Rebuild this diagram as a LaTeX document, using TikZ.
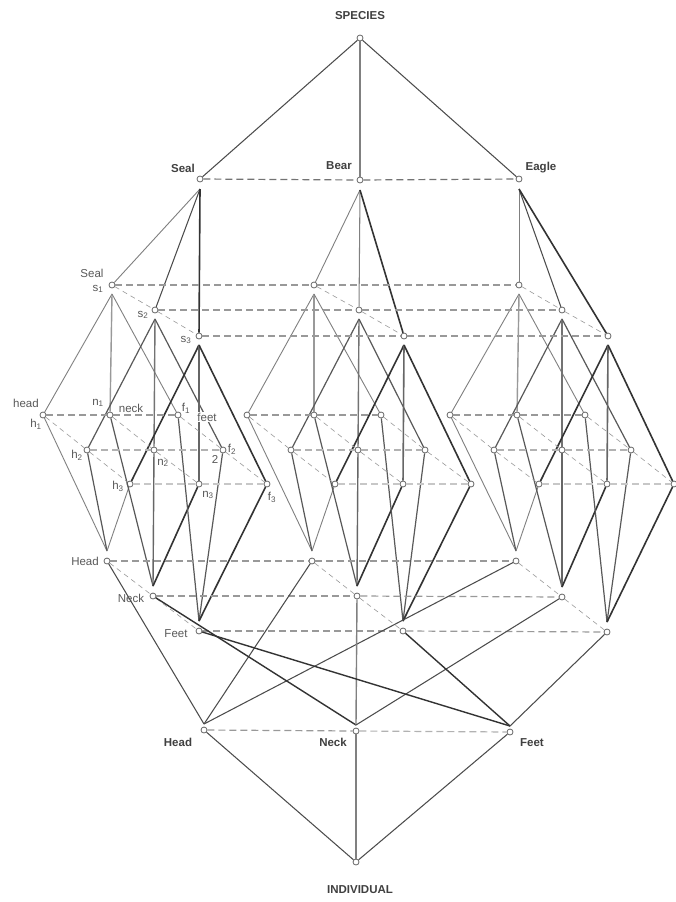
\documentclass[tikz,border=0pt]{standalone}
\usepackage{fontspec}
\setmainfont{Liberation Sans}
\tikzset{
  x=1pt,y=-1pt,
  vert/.style={circle,draw=black!60,fill=white,line width=0.8pt,inner sep=0pt,minimum size=6pt},
  main/.style={font=\fontsize{11.5}{13}\selectfont\bfseries,text=black!75,inner sep=0.5pt},
  sub/.style={font=\fontsize{11.5}{13}\selectfont,text=black!65,inner sep=0.5pt},
  eA/.style={draw=black!50,line width=0.9pt},
  eB/.style={draw=black!65,line width=1.2pt},
  eC/.style={draw=black!80,line width=1.6pt},
  eD/.style={draw=black!70,line width=1.05pt},
  eL/.style={draw=black!50,line width=1.05pt},
  eV/.style={draw=black!40,line width=1.4pt},
  rowd/.style={draw=black!40,line width=1.2pt,dash pattern=on 7pt off 4pt},
  diag/.style={draw=black!40,line width=0.6pt,dash pattern=on 5pt off 4pt},
}
\newcommand{\vn}[3]{\node[vert] (#1) at (#2,#3) {};}
\begin{document}
\begin{tikzpicture}
\useasboundingbox (0,0) rectangle (676,902);
\fill[white] (0,0) rectangle (676,902);
% top and bottom
\vn{species}{360}{38}
\vn{seal}{200}{179}\vn{bear}{360}{180}\vn{eagle}{519}{179}
\vn{head}{204}{730}\vn{neck}{356}{731}\vn{feet}{510}{732}
\vn{indiv}{356}{862}
% cube A
\vn{A-s1}{112}{285}\vn{A-s2}{155}{310}\vn{A-s3}{199}{336}
\vn{A-h1}{43}{415}\vn{A-n1}{110}{415}\vn{A-f1}{178}{415}
\vn{A-h2}{87}{450}\vn{A-n2}{154}{450}\vn{A-f2}{223}{450}
\vn{A-h3}{130}{484}\vn{A-n3}{199}{484}\vn{A-f3}{267}{484}
\vn{A-H}{107}{561}\vn{A-N}{153}{596}\vn{A-F}{199}{631}
% cube B
\vn{B-s1}{314}{285}\vn{B-s2}{359}{310}\vn{B-s3}{404}{336}
\vn{B-h1}{247}{415}\vn{B-n1}{314}{415}\vn{B-f1}{381}{415}
\vn{B-h2}{291}{450}\vn{B-n2}{358}{450}\vn{B-f2}{425}{450}
\vn{B-h3}{335}{484}\vn{B-n3}{403}{484}\vn{B-f3}{471}{484}
\vn{B-H}{312}{561}\vn{B-N}{357}{596}\vn{B-F}{403}{631}
% cube C
\vn{C-s1}{519}{285}\vn{C-s2}{562}{310}\vn{C-s3}{608}{336}
\vn{C-h1}{450}{415}\vn{C-n1}{517}{415}\vn{C-f1}{585}{415}
\vn{C-h2}{494}{450}\vn{C-n2}{562}{450}\vn{C-f2}{631}{450}
\vn{C-h3}{539}{484}\vn{C-n3}{607}{484}\vn{C-f3}{674}{484}
\vn{C-H}{516}{561}\vn{C-N}{562}{597}\vn{C-F}{607}{632}
% apex coordinates
\foreach \n in {seal,bear,eagle}{\path (\n) ++(0,10) coordinate (\n-a);}
\foreach \n in {head,neck,feet}{\path (\n) ++(0,-6) coordinate (\n-a);}
\foreach \X in {A,B,C}{
  \foreach \i in {1,2,3}{\path (\X-s\i) ++(0,9) coordinate (\X-s\i-a);}
  \foreach \n in {H,N,F}{\path (\X-\n) ++(0,-10) coordinate (\X-\n-a);}
}
% top edges
\draw[eD] (species) -- (seal);
\draw[eL] (species) -- (bear);
\draw[eD] (species) -- (eagle);
\draw[rowd,draw=black!55] (seal) -- (bear);
\draw[rowd,draw=black!55] (bear) -- (eagle);
\draw[eA] (seal-a) -- (A-s1);
\draw[eD] (seal-a) -- (A-s2);
\draw[eC] (seal-a) -- (A-s3);
\draw[eA] (bear-a) -- (B-s1);
\draw[eL] (bear-a) -- (B-s2);
\draw[eC] (bear-a) -- (B-s3);
\draw[eA] (eagle-a) -- (C-s1);
\draw[eD] (eagle-a) -- (C-s2);
\draw[eC] (eagle-a) -- (C-s3);
% cubes
\foreach \X in {A,B,C}{
  \draw[eA] (\X-s1-a) -- (\X-h1);
  \draw[eV] (\X-s1-a) -- (\X-n1);
  \draw[eA] (\X-s1-a) -- (\X-f1);
  \draw[eB] (\X-s2-a) -- (\X-h2);
  \draw[eV,draw=black!55] (\X-s2-a) -- (\X-n2);
  \draw[eB] (\X-s2-a) -- (\X-f2);
  \draw[eC] (\X-s3-a) -- (\X-h3);
  \draw[eC,draw=black!60] (\X-s3-a) -- (\X-n3);
  \draw[eC] (\X-s3-a) -- (\X-f3);
  \draw[eA] (\X-h1) -- (\X-H-a);
  \draw[eB] (\X-h2) -- (\X-H-a);
  \draw[eA] (\X-h3) -- (\X-H-a);
  \draw[eB] (\X-n1) -- (\X-N-a);
  \draw[eV,draw=black!60] (\X-n2) -- (\X-N-a);
  \draw[eC] (\X-n3) -- (\X-N-a);
  \draw[eB] (\X-f1) -- (\X-F-a);
  \draw[eB] (\X-f2) -- (\X-F-a);
  \draw[eC] (\X-f3) -- (\X-F-a);
  \draw[rowd] (\X-h1) -- (\X-n1);
  \draw[rowd] (\X-n1) -- (\X-f1);
  \draw[rowd,draw=black!30] (\X-h2) -- (\X-n2);
  \draw[rowd,draw=black!30] (\X-n2) -- (\X-f2);
  \draw[rowd,draw=black!22] (\X-h3) -- (\X-n3);
  \draw[rowd,draw=black!22] (\X-n3) -- (\X-f3);
  \draw[diag] (\X-s1) -- (\X-s2);
  \draw[diag] (\X-s2) -- (\X-s3);
  \draw[diag] (\X-h1) -- (\X-h2);
  \draw[diag] (\X-h2) -- (\X-h3);
  \draw[diag] (\X-n1) -- (\X-n2);
  \draw[diag] (\X-n2) -- (\X-n3);
  \draw[diag] (\X-f1) -- (\X-f2);
  \draw[diag] (\X-f2) -- (\X-f3);
  \draw[diag] (\X-H) -- (\X-N);
  \draw[diag] (\X-N) -- (\X-F);
}
% rows across cubes
\foreach \n in {s1,s2,s3,H,N,F}{
  \draw[rowd] (A-\n) -- (B-\n);
  \draw[rowd] (B-\n) -- (C-\n);
}
% lower edges
\draw[eD] (A-H) -- (head-a);
\draw[eD] (B-H) -- (head-a);
\draw[eD] (C-H) -- (head-a);
\draw[eC,line width=1.4pt] (A-N) -- (neck-a);
\draw[eV,draw=black!50] (B-N) -- (neck-a);
\draw[eD] (C-N) -- (neck-a);
\draw[eC,line width=1.4pt] (A-F) -- (feet-a);
\draw[eC,line width=1.4pt] (B-F) -- (feet-a);
\draw[eD] (C-F) -- (feet-a);
\draw[rowd] (head) -- (neck);
\draw[rowd,draw=black!30] (neck) -- (feet);
\draw[eD] (head) -- (indiv);
\draw[eL] (neck) -- (indiv);
\draw[eD] (feet) -- (indiv);
% main labels
\node[main] (t-species) at (360,16) {SPECIES};
\node[main] (t-indiv) at (360,890) {INDIVIDUAL};
\node[main] (t-seal) at (183,168) {Seal};
\node[main] (t-bear) at (339,166) {Bear};
\node[main] (t-eagle) at (541,168) {Eagle};
\node[main] (t-head) at (178,742) {Head};
\node[main] (t-neck) at (333,742) {Neck};
\node[main] (t-feet) at (532,743) {Feet};
% sub labels
\node[sub] (l-seal) at (92,273) {Seal};
\node[sub] (l-s1) at (98,289) {s\textsubscript{1}};
\node[sub] (l-s2) at (143,315) {s\textsubscript{2}};
\node[sub] (l-s3) at (186,340) {s\textsubscript{3}};
\node[sub] (l-headp) at (26,403) {head};
\node[sub] (l-h1) at (36,424) {h\textsubscript{1}};
\node[sub] (l-n1) at (98,403) {n\textsubscript{1}};
\node[sub,fill=white] (l-neckp) at (131,408) {neck};
\node[sub] (l-f1) at (186,408) {f\textsubscript{1}};
\node[sub,fill=white] (l-feetp) at (207,417) {feet};
\node[sub] (l-f2) at (232,449) {f\textsubscript{2}};
\node[sub] (l-2) at (215,459) {2};
\node[sub] (l-h2) at (77,455) {h\textsubscript{2}};
\node[sub] (l-n2) at (163,463) {n\textsubscript{2}};
\node[sub] (l-h3) at (118,486) {h\textsubscript{3}};
\node[sub] (l-n3) at (208,495) {n\textsubscript{3}};
\node[sub] (l-f3) at (272,497) {f\textsubscript{3}};
\node[sub] (l-H) at (85,561) {Head};
\node[sub] (l-N) at (131,598) {Neck};
\node[sub] (l-F) at (176,634) {Feet};
\end{tikzpicture}
\end{document}
